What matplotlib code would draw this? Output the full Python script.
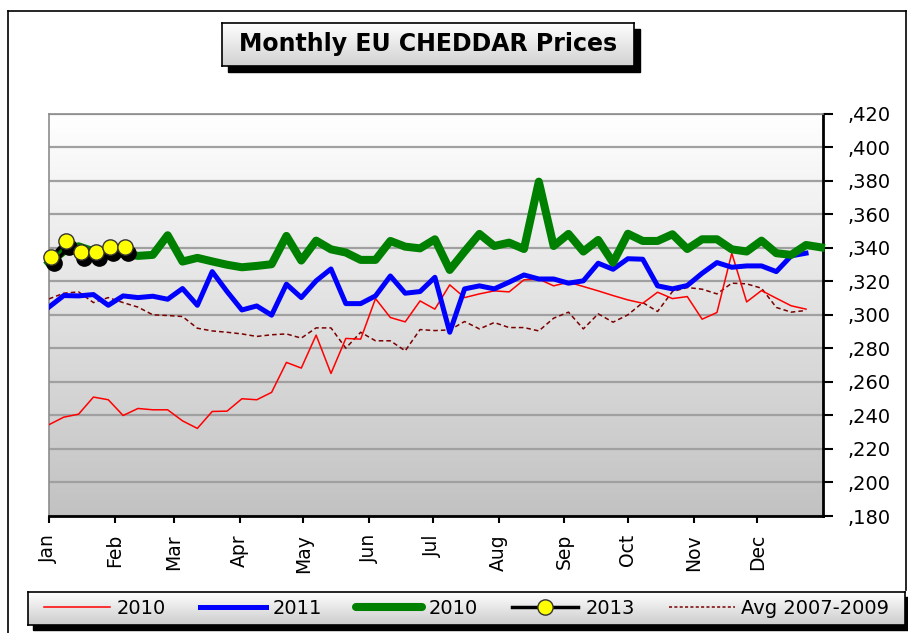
import numpy as np
import matplotlib
matplotlib.use("Agg")
import matplotlib.pyplot as plt
from matplotlib.patches import Rectangle
from matplotlib.lines import Line2D
from matplotlib import transforms

plt.rcParams['font.family'] = ['DejaVu Sans']

# ---------------- data ----------------
months = ["Jan", "Feb", "Mar", "Apr", "May", "Jun", "Jul", "Aug", "Sep", "Oct", "Nov", "Dec"]
month_start_days = [0, 31, 59, 90, 120, 151, 181, 212, 243, 273, 304, 334]

red_2010 = [0.2345, 0.239, 0.2408, 0.251, 0.2494, 0.240, 0.2442, 0.2434, 0.2434, 0.2368, 0.2323, 0.2424, 0.2426,
            0.2500, 0.2494, 0.2538, 0.2717, 0.2683, 0.288, 0.2651, 0.286, 0.2856, 0.3098, 0.2985, 0.2959, 0.3084, 0.3035,
            0.318, 0.3104, 0.3126, 0.3144, 0.3138, 0.321, 0.3214, 0.3174, 0.3196, 0.317, 0.3144, 0.3116,
            0.309, 0.307, 0.3136, 0.3098, 0.311, 0.2975, 0.3015, 0.3369, 0.3078, 0.3146, 0.31, 0.3055, 0.3035]

blue_2011 = [0.3047, 0.3116, 0.3114, 0.3122, 0.3058, 0.3114, 0.3104, 0.3112, 0.3094, 0.3158, 0.3058, 0.3259, 0.314,
             0.303, 0.3054, 0.2999, 0.3184, 0.3104, 0.3204, 0.3275, 0.3068, 0.3068, 0.3114, 0.3233, 0.313, 0.314, 0.3225,
             0.2897, 0.3156, 0.3174, 0.3156, 0.3196, 0.3239, 0.3215, 0.3215, 0.319, 0.3204, 0.3309, 0.3273,
             0.3336, 0.3333, 0.3174, 0.3156, 0.3176, 0.3249, 0.3313, 0.3285, 0.3293, 0.3293, 0.3259, 0.3353, 0.3369]

green_2010 = [0.331, 0.338, 0.341, 0.338, 0.337, 0.3365, 0.3353, 0.3359, 0.3476, 0.3319, 0.3341, 0.332, 0.330,
              0.3285, 0.3293, 0.3303, 0.3472, 0.3325, 0.3444, 0.3392, 0.3373, 0.3329, 0.3329, 0.3442, 0.3408, 0.3398, 0.3452,
              0.3269, 0.3379, 0.3484, 0.3412, 0.3432, 0.3394, 0.3796, 0.3412, 0.3484, 0.3379, 0.3448, 0.3313,
              0.3485, 0.3442, 0.3442, 0.3482, 0.3394, 0.3452, 0.3452, 0.3392, 0.3379, 0.3444, 0.3369, 0.3359, 0.3418, 0.3404]

prices_2013 = [0.3345, 0.3442, 0.3379, 0.3379, 0.3404, 0.3404]

avg_2007_2009 = [0.3096, 0.313, 0.3138, 0.3074, 0.3104, 0.3074, 0.3047, 0.3001, 0.2997, 0.2991, 0.2921, 0.2905, 0.2897,
                 0.2887, 0.2872, 0.2882, 0.2887, 0.2862, 0.2923, 0.2923, 0.2802, 0.2897, 0.2846, 0.2846, 0.2786, 0.2913, 0.2907,
                 0.2911, 0.2961, 0.2917, 0.2955, 0.2925, 0.2925, 0.2905, 0.2981, 0.3017, 0.2917, 0.3007, 0.2957,
                 0.3001, 0.3074, 0.3021, 0.314, 0.3164, 0.3154, 0.3126, 0.319, 0.3186, 0.316, 0.3045, 0.3017, 0.3027]

y_ticks = [0.180, 0.200, 0.220, 0.240, 0.260, 0.280, 0.300, 0.320, 0.340, 0.360, 0.380, 0.400, 0.420]


def week_days(values, start=0.0):
    return [start + 7 * i for i in range(len(values))]


W, H = 908, 633
fig = plt.figure(figsize=(W / 100, H / 100), dpi=100)
fig.patch.set_facecolor('white')


def fx(px):
    return px / W


def fy(py):
    return 1 - py / H


def gradient_img(top=(1, 1, 1), bottom=(0.75, 0.75, 0.75), n=256):
    t = np.linspace(0, 1, n)[:, None]
    top = np.array(top)
    bottom = np.array(bottom)
    return (top[None, None, :] * (1 - t[..., None]) + bottom[None, None, :] * t[..., None])


# outer frame
fig.add_artist(Line2D([fx(8), fx(8)], [fy(11), fy(633)], color='black', lw=1.2))
fig.add_artist(Line2D([fx(8), fx(906)], [fy(11), fy(11)], color='black', lw=1.2))
fig.add_artist(Line2D([fx(906), fx(906)], [fy(11), fy(590)], color='black', lw=1.2))

# ---------------- main plot ----------------
x0, x1, ytop, ybot = 48.9, 823, 114, 516
ax = fig.add_axes([fx(x0), fy(ybot), fx(x1 - x0), (ybot - ytop) / H])
ax.set_xlim(0, 365)
ax.set_ylim(0.180, 0.420)
ax.imshow(gradient_img((1, 1, 1), (0.76, 0.76, 0.76)), extent=[0, 365, 0.180, 0.420],
          aspect='auto', zorder=0.1, interpolation='bilinear')
ax.set_yticks(y_ticks)
ax.set_yticklabels([",%03d" % int(round(v * 1000)) for v in y_ticks])
ax.yaxis.tick_right()
ax.yaxis.grid(True, color='#a0a0a0', lw=1.6)
ax.set_axisbelow(True)
ax.tick_params(axis='y', direction='out', length=7, width=1.5, pad=11, labelsize=14, colors='black')
ax.set_xticks(month_start_days)
ax.set_xticklabels(months, rotation=90, fontsize=13.5)
ax.tick_params(axis='x', direction='out', length=5, width=1.5, pad=8)
for side in ('left', 'top'):
    ax.spines[side].set_color('#8c8c8c')
    ax.spines[side].set_linewidth(1.2)
for side in ('bottom', 'right'):
    ax.spines[side].set_color('black')
    ax.spines[side].set_linewidth(2)

ax.plot(week_days(avg_2007_2009), avg_2007_2009, color='#7a0000', lw=1.1, ls=(0, (3, 2)), zorder=3)
ax.plot(week_days(red_2010), red_2010, color='#ff0000', lw=1.1, zorder=3)
ax.plot(week_days(blue_2011), blue_2011, color='#0000ff', lw=3.6, zorder=4)
ax.plot(week_days(green_2010), green_2010, color='#008000', lw=5.8, zorder=5, clip_on=False)
shadow_tr = transforms.offset_copy(ax.transData, fig=fig, x=3, y=-6, units='dots')
ax.plot(week_days(prices_2013, 1), prices_2013, color='black', lw=2.5, marker='o', ms=11,
        mfc='black', mec='black', transform=shadow_tr, zorder=6, clip_on=False)
ax.plot(week_days(prices_2013, 1), prices_2013, color='black', lw=2.5, marker='o', ms=11,
        mfc='#ffff00', mec='#333333', mew=1, zorder=7, clip_on=False)

# ---------------- title box ----------------
tx0, tx1, ty0, ty1 = 222, 634, 23, 66
fig.add_artist(Rectangle((fx(tx0 + 6), fy(ty1 + 6)), fx(tx1 - tx0), (ty1 - ty0) / H,
                         transform=fig.transFigure, color='black', zorder=1))
tax = fig.add_axes([fx(tx0), fy(ty1), fx(tx1 - tx0), (ty1 - ty0) / H], zorder=2)
tax.imshow(gradient_img((1, 1, 1), (0.82, 0.82, 0.82)), extent=[0, 1, 0, 1], aspect='auto')
tax.set_xlim(0, 1)
tax.set_ylim(0, 1)
tax.set_xticks([])
tax.set_yticks([])
for s in tax.spines.values():
    s.set_color('black')
    s.set_linewidth(1.2)
tax.text(0.5, 0.5, "Monthly EU CHEDDAR Prices", ha='center', va='center', fontsize=17,
         fontweight='bold', color='black')

# ---------------- legend box ----------------
lx0, lx1, ly0, ly1 = 28, 905, 592, 625
fig.add_artist(Rectangle((fx(lx0 + 5), fy(ly1 + 5)), fx(lx1 - lx0), (ly1 - ly0) / H,
                         transform=fig.transFigure, color='black', zorder=1))
lax = fig.add_axes([fx(lx0), fy(ly1), fx(lx1 - lx0), (ly1 - ly0) / H], zorder=2)
lax.imshow(gradient_img((1, 1, 1), (0.8, 0.8, 0.8)), extent=[0, 1, 0, 1], aspect='auto')
lax.set_xlim(0, 1)
lax.set_ylim(0, 1)
lax.set_xticks([])
lax.set_yticks([])
for s in lax.spines.values():
    s.set_color('black')
    s.set_linewidth(1.2)
handles = [
    Line2D([], [], color='#ff0000', lw=1.1),
    Line2D([], [], color='#0000ff', lw=3.6),
    Line2D([], [], color='#008000', lw=5.8, solid_capstyle='round'),
    Line2D([], [], color='black', lw=2.5, marker='o', ms=11, mfc='#ffff00', mec='#333333'),
    Line2D([], [], color='#7a0000', lw=1.1, ls=(0, (2, 1.5))),
]
labels = ["2010", "2011", "2010", "2013", "Avg 2007-2009"]
lax.legend(handles, labels, loc='center', ncol=5, frameon=False, fontsize=14,
           handlelength=3.4, handletextpad=0.35, columnspacing=1.75, borderaxespad=0)

fig.savefig("out.png", dpi=100)
